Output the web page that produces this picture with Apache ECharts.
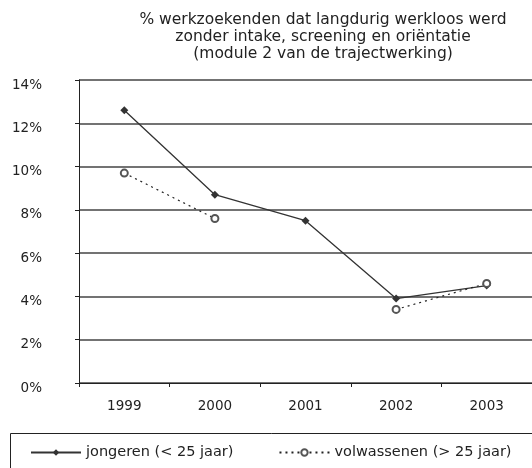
<!DOCTYPE html>
<html>
<head>
<meta charset="utf-8">
<script src="https://cdn.jsdelivr.net/npm/echarts@6/dist/echarts.min.js"></script>
<style>
  html, body { margin: 0; padding: 0; background: #fff; }
  #chart { width: 532px; height: 468px; }
</style>
</head>
<body>
<div id="chart"></div>
<script>
const years = ['1999', '2000', '2001', '2002', '2003']
const jongeren = [12.6, 8.7, 7.5, 3.9, 4.5]
const volwassenen = [9.7, 7.6, null, 3.4, 4.6]
const yTicks = [0, 2, 4, 6, 8, 10, 12, 14]

const font = 'DejaVu Sans'
const chart = echarts.init(document.getElementById('chart'))

chart.setOption({
  animation: false,
  textStyle: { fontFamily: font },
  title: {
    text: '% werkzoekenden dat langdurig werkloos werd\nzonder intake, screening en oriëntatie\n(module 2 van de trajectwerking)',
    left: 318,
    top: 6,
    textAlign: 'center',
    textStyle: { fontSize: 15.5, fontWeight: 'normal', color: '#222', lineHeight: 17, fontFamily: font }
  },
  grid: { left: 79, top: 80, width: 456, bottom: 85 },
  xAxis: {
    type: 'category',
    data: years,
    boundaryGap: true,
    axisLine: { lineStyle: { color: '#222', width: 1 } },
    axisTick: { show: true, length: 4, lineStyle: { color: '#222' } },
    axisLabel: { color: '#222', fontSize: 13.5, margin: 16, fontFamily: font },
    splitLine: { show: false }
  },
  yAxis: {
    type: 'value',
    min: yTicks[0],
    max: yTicks[yTicks.length - 1],
    interval: 2,
    axisLine: { show: true, lineStyle: { color: '#222', width: 1 } },
    axisTick: { show: true, length: 4, lineStyle: { color: '#222' } },
    axisLabel: { formatter: '{value}%', color: '#222', fontSize: 13.5, margin: 37, verticalAlign: 'top', lineHeight: 10, fontFamily: font },
    splitLine: { lineStyle: { color: '#444', width: 1.5 } }
  },
  legend: {
    left: 25,
    top: 440,
    itemWidth: 50,
    itemHeight: 8,
    itemGap: 45,
    textStyle: { fontSize: 14.5, color: '#222', fontFamily: font },
    data: ['jongeren (< 25 jaar)', 'volwassenen (> 25 jaar)']
  },
  graphic: [{
    type: 'rect',
    shape: { x: 10.5, y: 433.5, width: 540, height: 50 },
    style: { fill: 'none', stroke: '#222', lineWidth: 1 }
  }],
  series: [
    {
      name: 'jongeren (< 25 jaar)',
      type: 'line',
      data: jongeren,
      symbol: 'diamond',
      symbolSize: 8,
      itemStyle: { color: '#333' },
      lineStyle: { color: '#333', width: 1.3 }
    },
    {
      name: 'volwassenen (> 25 jaar)',
      type: 'line',
      data: volwassenen,
      connectNulls: false,
      symbol: 'emptyCircle',
      symbolSize: 7,
      itemStyle: { color: '#555', borderWidth: 1 },
      lineStyle: { color: '#222', width: 1.2, type: [2, 4] }
    }
  ]
})
</script>
</body>
</html>
